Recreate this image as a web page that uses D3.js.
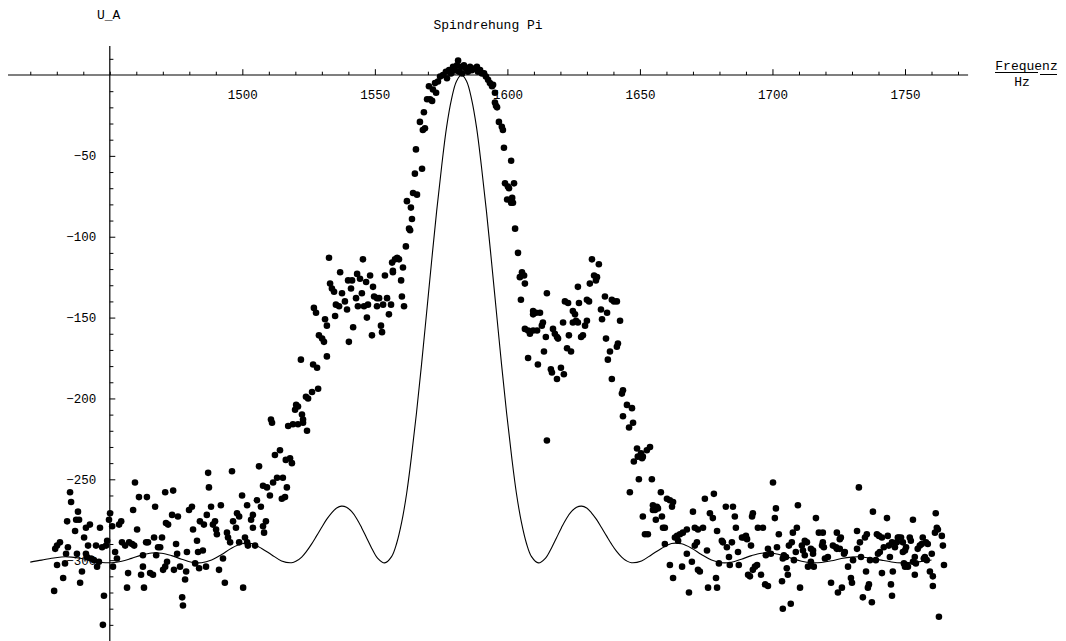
<!DOCTYPE html>
<html><head><meta charset="utf-8">
<script src="https://cdn.jsdelivr.net/npm/d3@7"></script>
<style>
html,body{margin:0;padding:0;background:#fff;}
svg{display:block;}
text{font-family:"Liberation Mono","Courier New",monospace;fill:#000;}
</style></head><body>
<svg id="chart" width="1066" height="641"></svg>
<script>
// ---------- data ----------
const freqMajorTicks = [1500, 1550, 1600, 1650, 1700, 1750];
const freqMinorTicks = [1420,1430,1440,1450,1460,1470,1480,1490,1510,1520,1530,1540,1560,1570,1580,1590,1610,1620,1630,1640,1660,1670,1680,1690,1710,1720,1730,1740,1760,1770];
const valueMajorTicks = [-50, -100, -150, -200, -250, -300];
const valueMinorTicks = [10,-10,-20,-30,-40,-60,-70,-80,-90,-110,-120,-130,-140,-160,-170,-180,-190,-210,-220,-230,-240,-260,-270,-280,-290,-310,-320,-330,-340];
const freqAxisExtent = [1411.6, 1773.8];
const valueAxisExtent = [18, -350];
const axisOrigin = [1450, 0];

const titleText = "Spindrehung Pi";
const yLabelText = "U_A";
const xLabelNum = "Frequenz";
const xLabelDen = "Hz";

// theoretical curve [Frequenz, U_A]
const theoryCurve = [
[1420.0,-301.2],[1424.3,-300.0],[1428.0,-298.8],[1431.8,-298.0],[1435.6,-298.1],[1439.4,-299.0],[1443.1,-300.4],[1446.9,-301.4],[1450.7,-301.6],[1454.5,-300.7],[1458.2,-298.9],[1462.0,-296.9],[1465.8,-295.6],[1469.5,-295.7],[1473.3,-297.2],[1477.1,-299.4],[1480.9,-301.3],[1484.6,-301.6],[1488.4,-299.9],[1492.2,-296.5],[1495.9,-292.6],[1499.7,-289.9],[1503.5,-289.7],[1507.3,-292.8],[1511.0,-296.6],[1514.8,-300.5],[1518.6,-301.6],[1520.5,-300.4],[1522.4,-298.1],[1524.2,-294.6],[1526.1,-290.1],[1528.0,-285.0],[1529.9,-279.8],[1531.8,-274.8],[1533.7,-270.7],[1535.6,-267.8],[1537.4,-266.6],[1539.3,-267.3],[1541.2,-269.9],[1543.1,-274.2],[1545.0,-279.9],[1546.9,-286.3],[1548.8,-292.6],[1551.0,-298.7],[1553.7,-301.7],[1556.3,-297.8],[1558.2,-289.7],[1560.1,-276.7],[1562.0,-258.6],[1563.8,-236.0],[1565.7,-209.0],[1567.6,-179.1],[1569.5,-147.3],[1571.4,-115.3],[1573.3,-84.3],[1575.2,-56.4],[1577.0,-32.8],[1578.9,-15.0],[1580.8,-3.8],[1582.7,0],
[1584.6,-3.8],[1586.5,-15.0],[1588.4,-32.8],[1590.2,-56.4],[1592.1,-84.3],[1594.0,-115.3],[1595.9,-147.3],[1597.8,-179.1],[1599.7,-209.0],[1601.6,-236.0],[1603.4,-258.6],[1605.3,-276.7],[1607.2,-289.7],[1609.1,-297.8],[1611.7,-301.7],[1614.4,-298.7],[1616.6,-292.6],[1618.5,-286.3],[1620.4,-279.9],[1622.3,-274.2],[1624.2,-269.9],[1626.1,-267.3],[1628.0,-266.6],[1629.9,-267.8],[1631.7,-270.7],[1633.6,-274.8],[1635.5,-279.8],[1637.4,-285.0],[1639.3,-290.1],[1641.2,-294.6],[1643.1,-298.1],[1644.9,-300.4],[1646.8,-301.6],[1650.6,-300.5],[1654.4,-296.6],[1658.1,-292.8],[1661.9,-289.7],[1665.7,-289.9],[1669.5,-292.6],[1673.2,-296.5],[1677.0,-299.9],[1680.8,-301.6],[1684.5,-301.3],[1688.3,-299.4],[1692.1,-297.2],[1695.9,-295.7],[1699.6,-295.6],[1703.4,-296.9],[1707.2,-298.9],[1711.0,-300.7],[1714.7,-301.6],[1718.5,-301.4],[1722.3,-300.4],[1726.0,-299.0],[1729.8,-298.1],[1733.6,-298.0],[1737.4,-298.8],[1741.1,-300.0],[1744.9,-301.1],[1748.7,-301.7],[1752.4,-301.5],[1756.2,-300.8],[1760.0,-299.9]
];

// measured points [Frequenz, U_A]
const measuredLeftTail = [
[1429.0,-319],[1429.4,-293],[1430.1,-291],[1431.2,-289],[1430.1,-303],[1432.4,-311],[1433.1,-302],[1433.5,-296],[1433.9,-276],[1434.2,-292],[1435.0,-258],[1435.4,-264],[1436.9,-282],[1437.3,-275],[1437.6,-296],[1438.0,-270],[1438.4,-275],[1438.8,-314],[1439.5,-307],[1440.3,-286],[1441.0,-280],[1441.0,-296],[1441.4,-298],[1441.8,-291],[1442.5,-278],[1442.9,-299],[1444.0,-300],[1444.8,-291],[1445.2,-304],[1445.9,-301],[1446.3,-280],[1447.1,-292],[1447.8,-322],[1447.4,-340],[1448.6,-291],[1449.0,-288],[1449.7,-275],[1450.1,-271],[1450.9,-279],[1451.2,-304],[1452.0,-295],[1452.7,-299],[1453.5,-278],[1454.3,-276],[1454.6,-289],[1455.8,-291],[1456.9,-308],[1456.5,-317],[1457.3,-289],[1458.4,-290],[1459.2,-291],[1458.8,-269],[1459.5,-252],[1460.3,-281],[1461.0,-261],[1461.8,-309],[1462.5,-297],[1462.9,-317],[1462.5,-304],[1464.0,-261],[1463.7,-289],[1464.4,-289],[1465.2,-308],[1466.3,-309],[1466.7,-286],[1467.1,-267],[1467.5,-297],[1468.2,-292],[1469.0,-292],[1469.7,-286],[1470.1,-306],[1470.9,-258],[1471.2,-277],[1472.0,-278],[1470.9,-304],[1471.6,-301],[1473.5,-272],[1473.9,-257],[1474.2,-306],[1475.0,-290],[1475.4,-296],[1475.7,-273],[1476.5,-304],[1477.3,-323],[1477.6,-328],[1478.4,-312],[1478.8,-307],[1479.1,-295],[1479.9,-269],[1481.0,-267],[1481.4,-281],[1482.2,-302],[1482.9,-288],[1483.3,-295],[1483.7,-305],[1484.0,-276],[1485.1,-294],[1485.5,-278],[1486.3,-304],[1486.6,-272],[1487.1,-246],[1487.4,-255],[1488.2,-267],[1488.9,-278],[1489.7,-276],[1490.1,-281],[1490.4,-284],[1491.2,-306],[1491.9,-266],[1492.7,-299],[1493.4,-314],[1494.2,-283],[1494.6,-286],[1495.4,-289],[1496.1,-245],[1496.5,-276],[1497.6,-280],[1498.0,-271],[1498.8,-289],[1498.8,-273],[1499.9,-260],[1500.3,-317],[1501.0,-286],[1501.8,-289],[1502.1,-291],[1501.8,-266],[1503.3,-275],[1504.0,-280],[1504.0,-272],[1504.8,-291],[1505.5,-263],[1506.3,-242],[1507.0,-267],[1507.8,-279],[1508.2,-283],[1508.9,-276],[1507.8,-254],[1509.3,-255],[1510.4,-260],[1511.6,-252],[1512.3,-235],[1513.1,-249],[1514.2,-232],[1515.3,-249],[1514.9,-262],[1516.1,-261],[1516.4,-238],[1518.0,-237],[1518.7,-240],[1516.8,-255]
];
const measuredRise = [
[1511.2,-215],[1510.8,-213],[1517.3,-217],[1519.1,-216],[1521.0,-216],[1522.9,-215],[1524.4,-220],[1522.5,-210],[1522.9,-213],[1520.3,-204],[1519.9,-207],[1521.0,-205],[1524.0,-199],[1524.8,-200],[1526.3,-196],[1528.6,-194],[1526.7,-179],[1528.2,-181],[1522.1,-176],[1531.9,-174],[1528.9,-161],[1530.1,-163],[1530.8,-165],[1531.2,-151],[1531.9,-155],[1527.0,-144],[1527.8,-147],[1535.3,-142],[1536.5,-143],[1533.1,-129],[1533.8,-132],[1534.6,-134],[1536.9,-122],[1532.7,-113]
];
const measuredLeftShoulder = [
[1540.2,-165],[1548.9,-161],[1552.7,-159],[1541.8,-156],[1552.3,-155],[1535.0,-149],[1547.0,-150],[1555.3,-148],[1539.5,-145],[1543.6,-143],[1545.9,-143],[1547.4,-142],[1550.8,-143],[1553.1,-142],[1556.1,-142],[1561.0,-143],[1538.7,-140],[1537.6,-135],[1545.1,-135],[1549.7,-137],[1550.8,-138],[1551.6,-138],[1542.9,-138],[1554.6,-138],[1560.2,-137],[1549.3,-131],[1541.0,-132],[1539.9,-127],[1541.4,-127],[1546.7,-128],[1559.9,-127],[1543.3,-123],[1544.4,-126],[1548.2,-124],[1553.8,-124],[1556.8,-121],[1556.8,-122],[1560.6,-119],[1558.4,-113],[1556.5,-116],[1559.1,-114],[1557.6,-114],[1545.5,-114],[1561.7,-106],[1563.3,-96]
];
const measuredPeak = [
[1562.9,-95],[1564.0,-89],[1563.6,-82],[1562.1,-78],[1564.4,-73],[1565.9,-74],[1565.1,-61],[1567.8,-58],[1565.5,-46],[1568.1,-34],[1568.9,-33],[1567.0,-29],[1568.5,-23],[1569.7,-15],[1570.8,-15],[1571.6,-16],[1570.4,-7],[1571.9,-9],[1573.1,-11],[1573.8,-4],[1572.7,-5],[1574.6,-1],[1575.7,0],[1576.8,2],[1577.2,-2],[1578.0,3],[1578.7,1],[1579.5,5],[1580.2,3],[1581.0,6],[1581.4,9],[1581.7,2],[1582.5,5],[1582.9,1],[1583.6,6],[1584.4,4],[1585.1,2],[1585.9,5],[1586.6,3],[1587.4,4],[1588.5,5],[1588.9,2],[1589.7,3],[1590.4,1],[1591.2,1],[1591.9,-1],[1592.7,-3],[1593.4,-5],[1594.2,-7],[1594.6,-6],[1595.3,-11],[1595.3,-17],[1595.7,-19],[1596.1,-20],[1596.8,-29],[1597.9,-32],[1598.3,-34],[1598.7,-45],[1601.4,-53],[1599.1,-67],[1600.2,-69],[1602.5,-67],[1600.6,-70],[1599.9,-77],[1601.8,-76],[1602.1,-79],[1601.4,-79],[1602.9,-95],[1604.0,-110],[1605.5,-122],[1604.7,-125],[1606.3,-124],[1606.6,-129],[1605.1,-139]
];
const measuredRightShoulder = [
[1631.9,-114],[1634.5,-117],[1632.7,-124],[1633.8,-125],[1633.4,-127],[1631.1,-129],[1626.6,-131],[1621.7,-140],[1622.9,-141],[1627.0,-141],[1630.0,-139],[1630.8,-140],[1636.8,-137],[1639.4,-139],[1640.2,-140],[1641.3,-140],[1609.7,-146],[1610.8,-147],[1612.3,-147],[1609.7,-148],[1624.7,-146],[1625.5,-148],[1625.9,-152],[1626.6,-153],[1624.7,-153],[1635.3,-145],[1637.6,-147],[1635.7,-151],[1630.0,-152],[1629.3,-155],[1621.0,-153],[1642.5,-152],[1613.4,-153],[1613.0,-155],[1606.6,-157],[1607.8,-158],[1609.7,-158],[1611.2,-158],[1608.5,-160],[1617.2,-157],[1617.9,-160],[1618.7,-162],[1619.1,-163],[1614.5,-162],[1623.2,-161],[1628.5,-161],[1627.8,-162],[1637.2,-163],[1641.7,-166],[1641.3,-168],[1622.5,-169],[1624.0,-171],[1613.8,-171],[1638.7,-171],[1607.8,-175],[1637.9,-176],[1611.5,-179],[1616.4,-182],[1616.8,-184],[1620.2,-181],[1621.3,-185],[1618.7,-188],[1639.4,-188],[1643.6,-195],[1643.2,-197],[1645.1,-204],[1647.0,-206],[1643.6,-211],[1647.4,-215],[1645.9,-218],[1614.9,-226],[1614.9,-135],[1648.9,-231],[1650.4,-234],[1651.1,-236],[1652.6,-232],[1649.2,-236],[1650.8,-237],[1647.7,-239],[1649.6,-250],[1646.2,-258]
];
const measuredRightTail = [
[1653.8,-230],[1654.5,-250],[1657.9,-258],[1651.1,-273],[1654.9,-266],[1656.4,-267],[1655.7,-269],[1654.9,-269],[1656.8,-268],[1656.0,-275],[1658.3,-273],[1660.2,-262],[1661.3,-263],[1662.5,-264],[1662.1,-267],[1651.9,-284],[1653.0,-284],[1658.7,-280],[1659.4,-280],[1659.4,-290],[1663.2,-286],[1664.0,-285],[1665.1,-284],[1666.2,-283],[1667.7,-281],[1664.4,-288],[1661.3,-303],[1665.9,-304],[1662.5,-311],[1667.7,-296],[1668.5,-320],[1669.6,-301],[1670.0,-270],[1670.7,-280],[1671.9,-281],[1673.8,-280],[1671.5,-289],[1670.7,-291],[1672.6,-307],[1671.9,-306],[1674.5,-262],[1675.3,-294],[1675.7,-317],[1679.1,-317],[1676.4,-271],[1677.5,-274],[1677.9,-259],[1679.1,-282],[1678.7,-311],[1679.8,-302],[1680.9,-288],[1681.3,-289],[1682.8,-292],[1682.4,-267],[1685.1,-267],[1683.6,-298],[1683.9,-303],[1687.3,-303],[1684.7,-289],[1685.8,-273],[1686.2,-280],[1687.0,-295],[1688.5,-286],[1689.2,-286],[1690.0,-285],[1690.4,-287],[1690.8,-309],[1691.5,-310],[1692.6,-306],[1691.9,-291],[1692.3,-273],[1692.6,-271],[1693.4,-304],[1694.2,-303],[1694.5,-280],[1695.7,-309],[1696.4,-280],[1697.2,-315],[1698.3,-316],[1697.5,-297],[1699.4,-296],[1698.3,-293],[1700.2,-252],[1700.9,-274],[1701.3,-268],[1701.7,-292],[1702.4,-284],[1703.9,-330],[1703.6,-313],[1704.3,-297],[1705.1,-298],[1703.9,-299],[1705.4,-305],[1705.8,-309],[1706.9,-327],[1706.2,-291],[1707.3,-289],[1707.7,-283],[1708.1,-300],[1708.8,-295],[1709.2,-280],[1709.6,-266],[1710.4,-317],[1711.1,-291],[1712.2,-288],[1713.0,-289],[1711.5,-294],[1712.2,-297],[1713.4,-304],[1714.5,-301],[1715.3,-296],[1715.3,-294],[1714.5,-293],[1716.4,-274],[1715.6,-304],[1717.5,-283],[1719.0,-283],[1719.0,-289],[1718.7,-291],[1719.4,-292],[1719.8,-299],[1720.9,-298],[1722.1,-314],[1722.8,-291],[1724.0,-292],[1724.3,-293],[1725.4,-293],[1724.3,-283],[1724.7,-320],[1726.2,-317],[1725.4,-287],[1725.8,-286],[1727.0,-296],[1727.3,-295],[1728.5,-304],[1729.6,-311],[1730.0,-314],[1730.4,-300],[1731.9,-282],[1731.9,-293],[1732.6,-255],[1733.0,-289],[1733.4,-298],[1734.1,-323],[1735.3,-307],[1735.6,-284],[1734.9,-286],[1736.0,-317],[1736.4,-315],[1736.8,-300],[1737.5,-326],[1737.9,-270],[1739.0,-300],[1739.4,-284],[1740.2,-285],[1741.3,-286],[1740.5,-295],[1739.8,-296],[1741.3,-308],[1742.0,-292],[1743.2,-274],[1743.5,-285],[1743.9,-291],[1745.1,-289],[1744.3,-298],[1744.7,-315],[1745.1,-322],[1745.4,-307],[1746.2,-292],[1746.9,-289],[1747.3,-286],[1747.7,-286],[1748.5,-286],[1749.2,-289],[1749.2,-295],[1750.0,-294],[1750.4,-292],[1749.6,-302],[1750.7,-303],[1751.1,-304],[1750.0,-304],[1751.8,-286],[1752.2,-288],[1753.0,-275],[1753.0,-301],[1753.7,-298],[1754.1,-302],[1753.7,-309],[1754.8,-293],[1755.6,-291],[1756.3,-290],[1756.7,-286],[1757.9,-289],[1757.1,-299],[1758.2,-300],[1757.5,-298],[1758.6,-290],[1759.4,-307],[1760.1,-296],[1760.5,-316],[1760.5,-310],[1761.3,-283],[1761.6,-271],[1762.0,-280],[1762.4,-281],[1763.9,-285],[1764.3,-291],[1764.7,-303],[1762.8,-335]
];

// ---------- drawing ----------
const svg = d3.select('#chart');
svg.append('rect').attr('width',1066).attr('height',641).attr('fill','#fff');

const x = d3.scaleLinear().domain([1450, 1750]).range([109.8, 905]);
const y = d3.scaleLinear().domain([0, -250]).range([75, 479.3]);

const ox = x(axisOrigin[0]), oy = y(axisOrigin[1]);

// axis lines
svg.append('line')
  .attr('x1', x(freqAxisExtent[0])).attr('x2', x(freqAxisExtent[1]))
  .attr('y1', oy).attr('y2', oy)
  .attr('stroke', '#000').attr('stroke-width', 1.2);
svg.append('line')
  .attr('x1', ox).attr('x2', ox)
  .attr('y1', y(valueAxisExtent[0])).attr('y2', y(valueAxisExtent[1]))
  .attr('stroke', '#000').attr('stroke-width', 1.2);

function styleAxis(g, size){
  g.select('.domain').remove();
  g.attr('font-family','"Liberation Mono","Courier New",monospace').attr('font-size', size);
  g.selectAll('line').attr('stroke','#000');
  g.selectAll('text').attr('fill','#000');
}

// x minor ticks
svg.append('g').attr('transform',`translate(0,${oy})`)
  .call(d3.axisBottom(x).tickValues(freqMinorTicks).tickSizeInner(-3.3).tickSizeOuter(0).tickFormat(''))
  .call(g => styleAxis(g, 12.5));
// x major ticks + labels
svg.append('g').attr('transform',`translate(0,${oy})`)
  .call(d3.axisBottom(x).tickValues(freqMajorTicks).tickSizeInner(-5.8).tickSizeOuter(0).tickPadding(15).tickFormat(d3.format('d')))
  .call(g => styleAxis(g, 12.5));

// y minor ticks
svg.append('g').attr('transform',`translate(${ox},0)`)
  .call(d3.axisLeft(y).tickValues(valueMinorTicks).tickSizeInner(-3.6).tickSizeOuter(0).tickFormat(''))
  .call(g => styleAxis(g, 12.5));
// y major ticks + labels
svg.append('g').attr('transform',`translate(${ox},0)`)
  .call(d3.axisLeft(y).tickValues(valueMajorTicks).tickSizeInner(-5.5).tickSizeOuter(0).tickPadding(13.5).tickFormat(d3.format('d')))
  .call(g => styleAxis(g, 12.5));

// labels
svg.append('text').attr('x', 488).attr('y', 29).attr('text-anchor','middle').attr('font-size', 13).text(titleText);
svg.append('text').attr('x', 97).attr('y', 18.5).attr('font-size', 13).text(yLabelText);
svg.append('text').attr('x', 1026.5).attr('y', 69.5).attr('text-anchor','middle').attr('font-size', 13).text(xLabelNum);
svg.append('line').attr('x1', 995).attr('x2', 1038).attr('y1', 72.5).attr('y2', 72.5).attr('stroke','#000').attr('stroke-width',1);
svg.append('line').attr('x1', 1040).attr('x2', 1057).attr('y1', 74.5).attr('y2', 74.5).attr('stroke','#000').attr('stroke-width',1);
svg.append('text').attr('x', 1022).attr('y', 85.5).attr('text-anchor','middle').attr('font-size', 13).text(xLabelDen);

// theory curve
const line = d3.line().x(d => x(d[0])).y(d => y(d[1])).curve(d3.curveCatmullRom.alpha(0.5));
svg.append('path').datum(theoryCurve)
  .attr('d', line).attr('fill','none').attr('stroke','#000').attr('stroke-width',1.1);

// measured points
const measured = [].concat(measuredLeftTail, measuredRise, measuredLeftShoulder, measuredPeak, measuredRightShoulder, measuredRightTail);
svg.append('g').selectAll('circle').data(measured).join('circle')
  .attr('cx', d => x(d[0])).attr('cy', d => y(d[1])).attr('r', 3.3).attr('fill','#000');
</script>
</body></html>
